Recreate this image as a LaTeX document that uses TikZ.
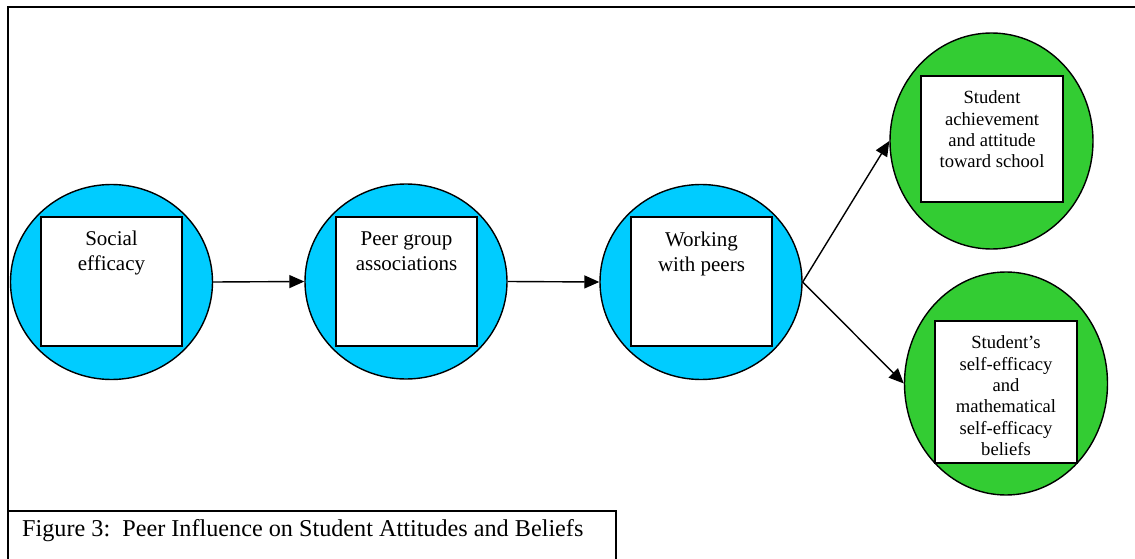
\documentclass[tikz,border=0pt]{standalone}
\usepackage{fontspec}
\setmainfont{Liberation Serif}
\usetikzlibrary{shapes.geometric,arrows.meta}
\definecolor{blueC}{RGB}{0,204,255}
\definecolor{greenC}{RGB}{51,204,51}
\tikzset{
  bluecirc/.style={ellipse, draw=black, line width=1.4pt, fill=blueC, inner sep=0pt, minimum width=202pt, minimum height=195pt},
  greencirc/.style={ellipse, draw=black, line width=1.4pt, fill=greenC, inner sep=0pt, minimum width=203pt},
  box/.style={rectangle, draw=black, line width=2pt, fill=white, inner sep=0pt, minimum width=141pt, minimum height=129pt},
  gbox/.style={rectangle, draw=black, line width=2pt, fill=white, inner sep=0pt, minimum width=142pt},
  btext/.style={anchor=north, align=center, inner sep=0pt, font=\fontsize{21}{25}\selectfont},
  gtext/.style={anchor=north, align=center, inner sep=0pt, font=\fontsize{18.6}{21.4}\selectfont},
  conn/.style={line width=1.4pt, -{Triangle[length=15pt,width=13pt]}},
  frame/.style={line width=2pt},
}
\begin{document}
\begin{tikzpicture}[x=1pt,y=-1pt]
\useasboundingbox (0,0) rectangle (1135,559);
% outer frame (cropped)
\draw[frame] (8,559) -- (8,7) -- (1135,7);
% caption box (cropped)
\draw[line width=1.5pt] (8,511) -- (616,511) -- (616,559);
\node[anchor=base west, inner sep=0pt, font=\fontsize{24.2}{28}\selectfont] (cap) at (22,536) {Figure 3:\ \ Peer Influence on Student Attitudes and Beliefs};
% blue circles
\node[bluecirc] (c1) at (111.5,282) {};
\node[box] (s1) at (111.5,281.5) {};
\node[btext] (t1) at (111.5,230.5) {Social\\efficacy};
\node[bluecirc] (c2) at (406,281.5) {};
\node[box] (s2) at (406.5,281.5) {};
\node[btext] (t2) at (406.5,231.5) {Peer group\\associations};
\node[bluecirc] (c3) at (701,282) {};
\node[box] (s3) at (701.5,281.5) {};
\node[btext] (t3) at (701.5,231.5) {Working\\with peers};
% green circles
\node[greencirc, minimum height=216pt] (g1) at (991.5,141) {};
\node[gbox, minimum height=126pt] (s4) at (992,139) {};
\node[gtext] (t4) at (992,90.5) {Student\\achievement\\and attitude\\toward school};
\node[greencirc, minimum height=223pt] (g2) at (1006,383.5) {};
\node[gbox, minimum height=142pt] (s5) at (1006,392) {};
\node[gtext] (t5) at (1006,335.5) {Student’s\\self-efficacy\\and\\mathematical\\self-efficacy\\beliefs};
% connectors
\draw[conn] (c1.east) -- (c2.west);
\draw[conn] (c2.east) -- (c3.west);
\draw[conn] (c3.east) -- (g1.west);
\draw[conn] (c3.east) -- (g2.west);
\end{tikzpicture}
\end{document}
